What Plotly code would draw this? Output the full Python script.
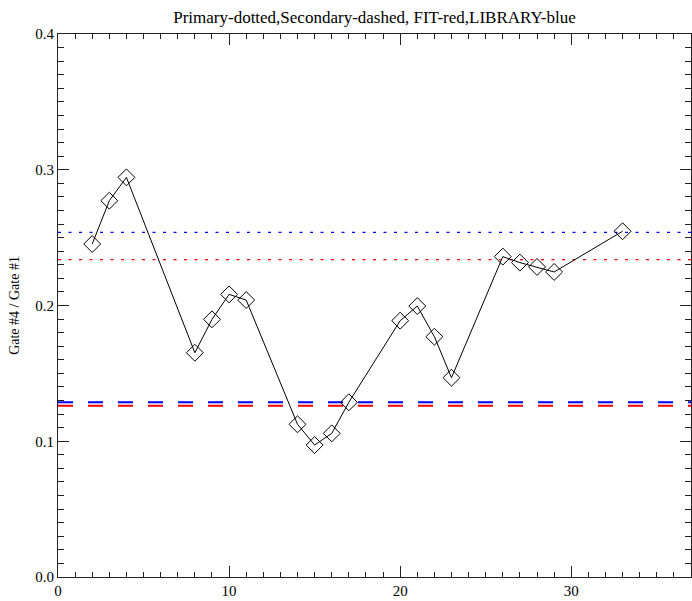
import plotly.graph_objects as go

# Gate ratio measurements
gate_index = [2, 3, 4, 8, 9, 10, 11, 14, 15, 16, 17, 20, 21, 22, 23, 26, 27, 28, 29, 33]
gate_ratio = [0.2453, 0.2772, 0.2944, 0.1652, 0.1898, 0.2082, 0.2040, 0.1125, 0.0972,
              0.1058, 0.1287, 0.1888, 0.1996, 0.1770, 0.1468, 0.2360, 0.2316, 0.2284,
              0.2247, 0.2547]

# Reference levels
fit_primary = 0.2338
library_primary = 0.2539
fit_secondary = 0.1262
library_secondary = 0.1287

x_range = [0, 37]
y_range = [0, 0.4]

fig = go.Figure()

levels = [
    (library_primary, "#0000ff", "3px,7.5px", 1.2),
    (fit_primary, "#ff0000", "3px,7.5px", 1.2),
    (library_secondary, "#0000ff", "15px,15px", 2),
    (fit_secondary, "#ff0000", "15px,15px", 2),
]
for val, col, dash, w in levels:
    fig.add_trace(go.Scatter(
        x=x_range, y=[val, val], mode="lines",
        line=dict(color=col, width=w, dash=dash),
        hoverinfo="skip", showlegend=False,
    ))

fig.add_trace(go.Scatter(
    x=gate_index, y=gate_ratio, mode="lines+markers",
    line=dict(color="black", width=1),
    marker=dict(symbol="diamond-open", size=13, color="black",
                line=dict(color="black", width=1)),
    showlegend=False,
))

font = "Liberation Serif"
axis_common = dict(
    showgrid=False, zeroline=False, showline=True, linecolor="#222",
    linewidth=1, mirror="allticks", ticks="inside", tickcolor="#222",
    tickfont=dict(family=font, size=15, color="black"),
)

fig.update_layout(
    width=692, height=601,
    margin=dict(l=58, r=1, t=34, b=24),
    plot_bgcolor="white", paper_bgcolor="white",
    title=dict(text="Primary-dotted,Secondary-dashed, FIT-red,LIBRARY-blue",
               x=(58 + 691) / 2 / 692, xanchor="center", y=1 - 17 / 601, yanchor="middle",
               font=dict(family=font, size=17, color="black")),
    xaxis=dict(range=x_range, tickmode="array", tickvals=[0, 10, 20, 30],
               ticklen=11, tickwidth=1,
               minor=dict(dtick=1, ticklen=5, ticks="inside", tickcolor="#222"),
               **axis_common),
    yaxis=dict(range=y_range, tickmode="array", tickvals=[0, 0.1, 0.2, 0.3, 0.4],
               ticktext=["0.0", "0.1", "0.2", "0.3", "0.4"],
               ticklen=11, tickwidth=1,
               minor=dict(dtick=0.01, ticklen=6, ticks="inside", tickcolor="#222"),
               title=dict(text="Gate #4 / Gate #1", standoff=12,
                          font=dict(family=font, size=14, color="black")),
               **axis_common),
)

fig.write_html("out.html")
